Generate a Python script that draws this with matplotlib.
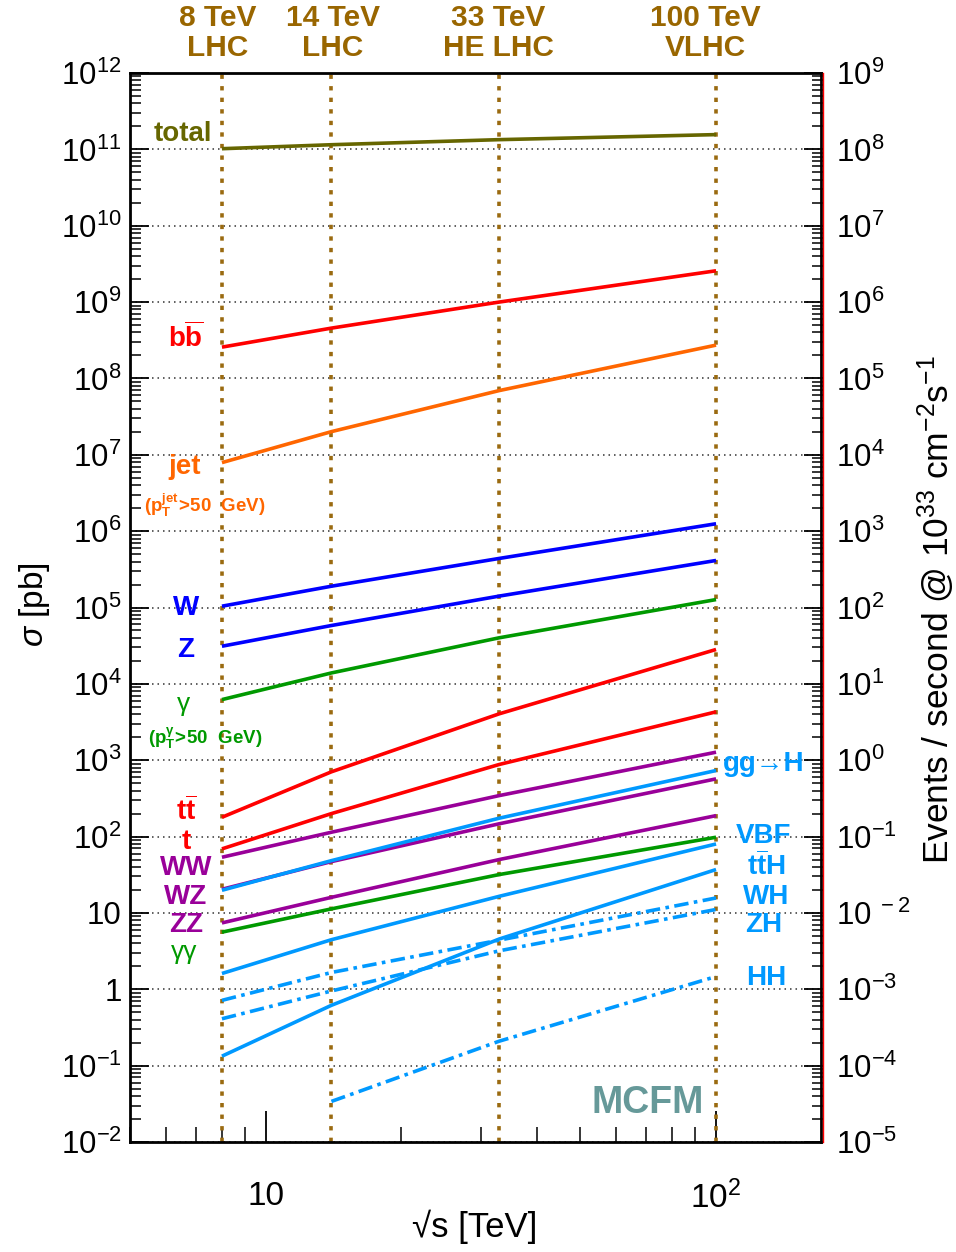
import matplotlib
matplotlib.use("Agg")
import matplotlib.pyplot as plt
import numpy as np
from matplotlib.ticker import LogLocator, FixedLocator, NullFormatter

plt.rcParams['font.family'] = ['Liberation Sans', 'DejaVu Sans']
plt.rcParams['mathtext.fontset'] = 'custom'
plt.rcParams['mathtext.rm'] = 'Liberation Sans'
plt.rcParams['mathtext.it'] = 'Liberation Sans:italic'
plt.rcParams['mathtext.bf'] = 'Liberation Sans:bold'
plt.rcParams['mathtext.sf'] = 'Liberation Sans'

# ---------------- data (cross sections in pb) ----------------
sqrt_s = [8, 14, 33, 100]
total = [1.02e11, 1.15e11, 1.34e11, 1.56e11]
bbbar = [2.57e8, 4.56e8, 1.00e9, 2.57e9]
jet = [7.9e6, 2.01e7, 6.93e7, 2.73e8]
W = [1.04e5, 1.90e5, 4.39e5, 1.25e6]
Z = [3.11e4, 5.81e4, 1.41e5, 4.13e5]
gamma = [6.22e3, 1.39e4, 4.01e4, 1.27e5]
ttbar = [179, 705, 4050, 2.82e4]
top = [69, 200, 879, 4300]
WW = [53.6, 114, 344, 1274]
ggH = [19.8, 48.4, 174, 733]
WZ = [20.4, 47, 147, 570]
ZZ = [7.4, 16.0, 50, 188]
gamgam = [5.6, 11.3, 31.8, 98]
VBF = [1.61, 4.46, 16.5, 80]
ttH = [0.133, 0.617, 4.55, 37]
WH = [0.716, 1.66, 4.4, 15.7]
ZH = [0.411, 0.95, 3.19, 11.1]
sqrt_s_HH = [14, 33, 100]
HH = [0.034, 0.209, 1.47]

machines = [8, 14, 33, 100]
machine_energy = ["8 TeV", "14 TeV", "33 TeV", "100 TeV"]
machine_name = ["LHC", "LHC", "HE LHC", "VLHC"]

left_ticks = [1e-2, 1e-1, 1, 10] + [10.0**k for k in range(2, 13)]
left_labels = [r'$10^{-2}$', r'$10^{-1}$', '1', '10'] + [r'$10^{%d}$' % k for k in range(2, 13)]
right_ticks = [10.0**k for k in range(-5, 10)]
right_labels = [r'$10^{%d}$' % k if k != -2 else r'$10^{\ -2}$' for k in range(-5, 10)]

# ---------------- colours ----------------
C_OLIVE = '#666600'
C_RED = '#ff0000'
C_ORANGE = '#ff6600'
C_BLUE = '#0000ff'
C_GREEN = '#009900'
C_PURPLE = '#990099'
C_LBLUE = '#0099ff'
C_BROWN = '#9a6a10'
C_MACH = '#996600'

W_PX, H_PX = 956, 1252
fig = plt.figure(figsize=(W_PX / 100, H_PX / 100), dpi=100)
L, R, T, B = 130, 821, 73, 1142
ax = fig.add_axes([L / W_PX, 1 - B / H_PX, (R - L) / W_PX, (B - T) / H_PX])
ax.set_xscale('log')
ax.set_yscale('log')
ax.set_xlim(5, 171)
ax.set_ylim(1e-2, 1e12)

# grid lines (horizontal dotted)
for v in left_ticks:
    ax.axhline(v, color='#333333', lw=1.1, ls=(0, (1, 2.6)), zorder=1)

# machine lines
for m in machines:
    ax.axvline(m, color=C_BROWN, lw=2.6, ls=(0, (1.2, 2.0)), zorder=2)

lw = 2.6
solid = [
    (total, C_OLIVE), (bbbar, C_RED), (jet, C_ORANGE), (W, C_BLUE), (Z, C_BLUE),
    (gamma, C_GREEN), (ttbar, C_RED), (top, C_RED), (WW, C_PURPLE),
    (WZ, C_PURPLE), (ggH, C_LBLUE), (ZZ, C_PURPLE), (gamgam, C_GREEN),
    (VBF, C_LBLUE), (ttH, C_LBLUE),
]
for vals, c in solid:
    ax.plot(sqrt_s, vals, color=c, lw=lw, solid_capstyle='butt', zorder=3)
dd = (0, (4, 1.5, 1, 1.5))
ax.plot(sqrt_s, WH, color=C_LBLUE, lw=lw, ls=dd, zorder=3)
ax.plot(sqrt_s, ZH, color=C_LBLUE, lw=lw, ls=dd, zorder=3)
ax.plot(sqrt_s_HH, HH, color=C_LBLUE, lw=lw, ls=dd, zorder=3)

# axes ticks
ax.yaxis.set_major_locator(FixedLocator(left_ticks))
ax.set_yticklabels(left_labels)
ax.yaxis.set_minor_locator(LogLocator(base=10, subs=np.arange(2, 10), numticks=50))
ax.yaxis.set_minor_formatter(NullFormatter())
ax.xaxis.set_major_locator(FixedLocator([10, 100]))
ax.set_xticklabels(['10', r'$10^{2}$'])
ax.xaxis.set_minor_locator(LogLocator(base=10, subs=np.arange(2, 10), numticks=50))
ax.xaxis.set_minor_formatter(NullFormatter())
ax.tick_params(axis='y', which='major', direction='in', length=14, width=1.3,
               labelsize=22.5, pad=6, left=True, right=False)
ax.tick_params(axis='y', which='minor', direction='in', length=8, width=1.1,
               left=True, right=False)
ax.tick_params(axis='x', which='major', direction='in', length=22, width=1.3,
               labelsize=24, pad=28, top=False)
ax.tick_params(axis='x', which='minor', direction='in', length=11, width=1.1, top=False)
for s in ax.spines.values():
    s.set_linewidth(2)
    s.set_color('black')

ax2 = ax.twinx()
ax2.set_yscale('log')
ax2.set_ylim(1e-5, 1e9)
ax2.yaxis.set_major_locator(FixedLocator(right_ticks))
ax2.set_yticklabels(right_labels)
ax2.yaxis.set_minor_locator(LogLocator(base=10, subs=np.arange(2, 10), numticks=50))
ax2.yaxis.set_minor_formatter(NullFormatter())
ax2.tick_params(axis='y', which='major', direction='in', length=14, width=1.3,
                labelsize=22.5, pad=9)
ax2.tick_params(axis='y', which='minor', direction='in', length=8, width=1.1)
for k, s in ax2.spines.items():
    s.set_visible(k == 'right')
ax2.spines['right'].set_color(C_RED)
ax2.spines['right'].set_linewidth(1.0)
ax2.spines['right'].set_position(('outward', 1.5))


def ftext(x, y, s, **kw):
    fig.text(x / W_PX, 1 - y / H_PX, s, ha='center', va='center', **kw)


# machine labels
for xpos, e, n in zip([218, 333, 498, 705], machine_energy, machine_name):
    ftext(xpos, 18, e, color=C_MACH, fontsize=21.5, fontweight='bold')
    ftext(xpos, 48, n, color=C_MACH, fontsize=21.5, fontweight='bold')

# axis titles
ftext(34, 605, r'$\sigma$ [pb]', fontsize=24, rotation=90)
ftext(936, 610, r'Events / second @ $10^{33}$ cm$^{-2}$s$^{-1}$', fontsize=25.5, rotation=90)
ftext(475, 1227, '\u221as [TeV]', fontsize=25)

# curve labels
lab = dict(fontsize=20, fontweight='bold')
ftext(183, 134, 'total', color=C_OLIVE, **lab)
ftext(186, 338, r'$\mathbf{b\overline{b}}$', color=C_RED, fontsize=20)
ftext(185, 467, 'jet', color=C_ORANGE, **lab)
ftext(205, 505, r'$\mathbf{(p_T^{jet}\!>\!50\ \ GeV)}$', color=C_ORANGE, fontsize=13.5)
ftext(186, 608, 'W', color=C_BLUE, **lab)
ftext(186, 650, 'Z', color=C_BLUE, **lab)
ftext(184, 704, '\u03b3', color=C_GREEN, fontsize=19)
ftext(205, 738, r'$\mathbf{(p_T^{\gamma}\!>\!50\ \ GeV)}$', color=C_GREEN, fontsize=13.5)
ftext(186, 811, r'$\mathbf{t\overline{t}}$', color=C_RED, fontsize=20)
ftext(186, 842, 't', color=C_RED, **lab)
ftext(186, 868, 'WW', color=C_PURPLE, **lab)
ftext(186, 897, 'WZ', color=C_PURPLE, **lab)
ftext(186, 925, 'ZZ', color=C_PURPLE, **lab)
ftext(184, 952, '\u03b3\u03b3', color=C_GREEN, fontsize=19)

ftext(764, 764, 'gg\u2192H', color=C_LBLUE, **lab)
ftext(764, 836, 'VBF', color=C_LBLUE, **lab)
ftext(766, 866, r'$\mathbf{t\overline{t}H}$', color=C_LBLUE, fontsize=20)
ftext(766, 897, 'WH', color=C_LBLUE, **lab)
ftext(764, 925, 'ZH', color=C_LBLUE, **lab)
ftext(766, 978, 'HH', color=C_LBLUE, **lab)

ftext(648, 1103, 'MCFM', color='#669999', fontsize=27, fontweight='bold')

fig.savefig('out.png', dpi=100)
